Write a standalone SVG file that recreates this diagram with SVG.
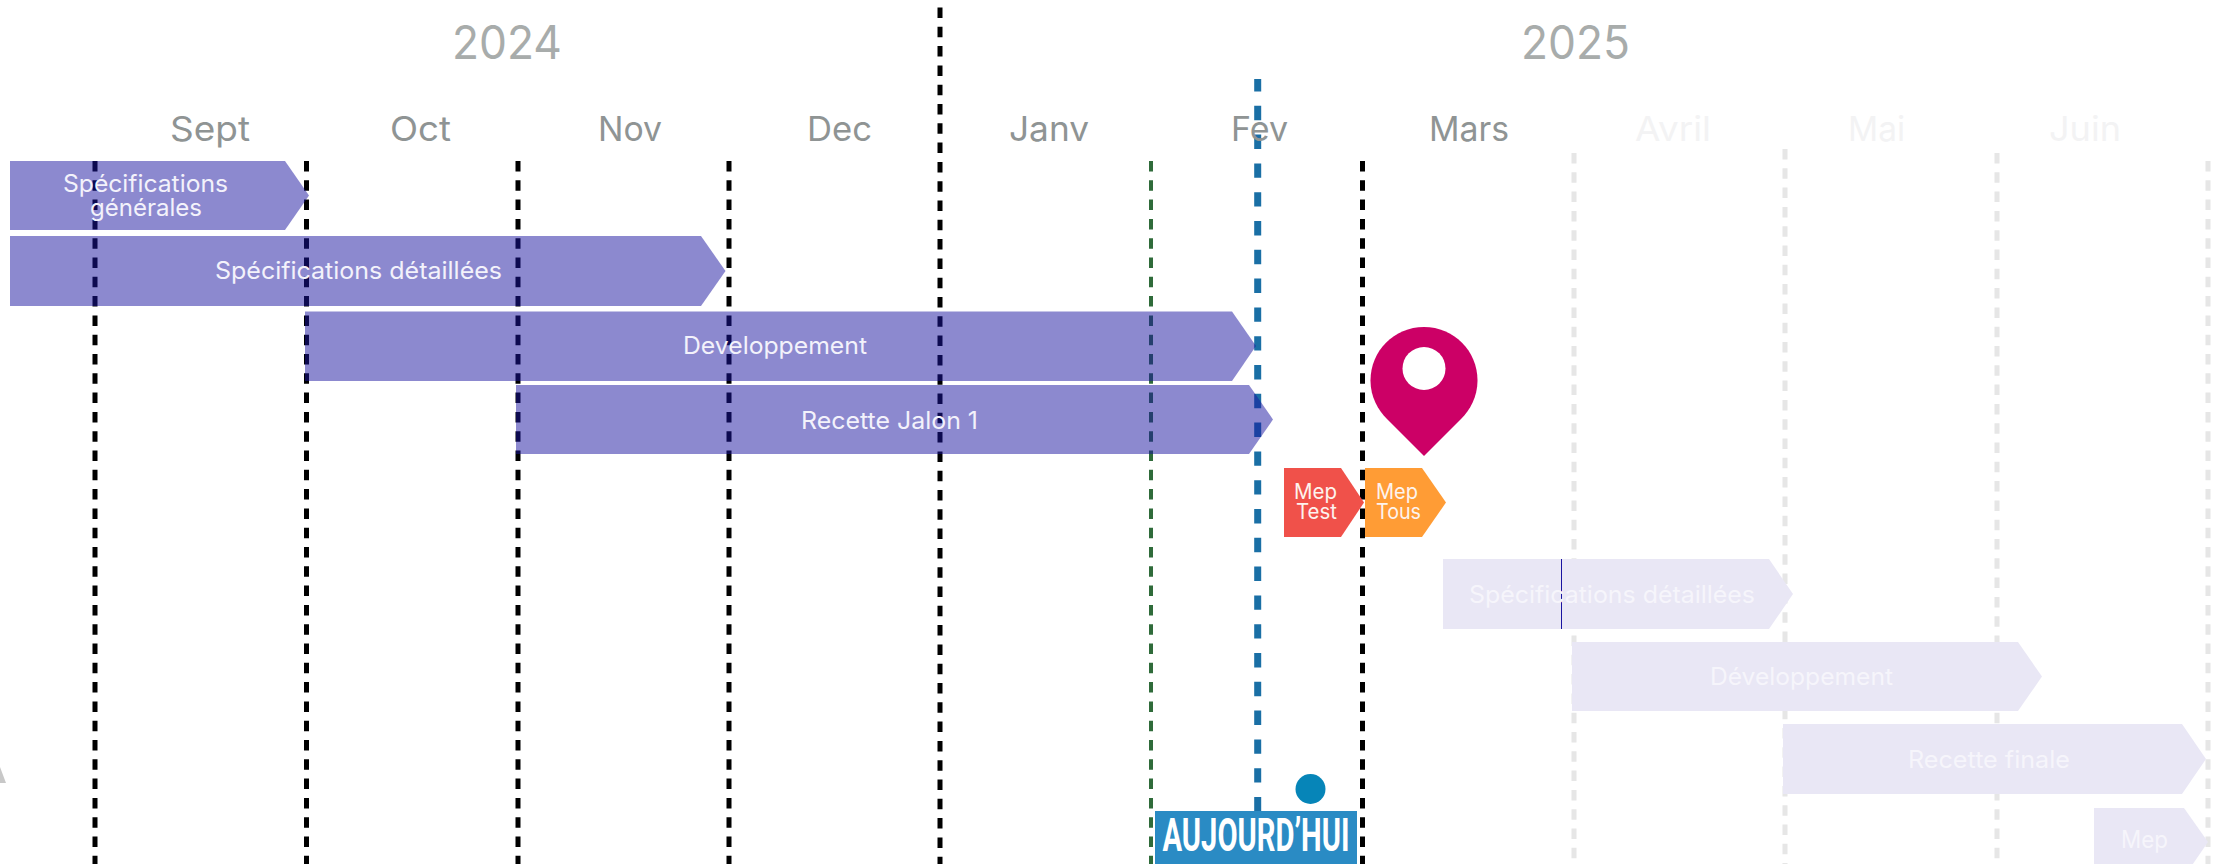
<svg xmlns="http://www.w3.org/2000/svg" width="2216" height="864" viewBox="0 0 2216 864">
<style>
text{font-family:"Inter","Liberation Sans",sans-serif;text-anchor:middle}
.yr{font-size:46px;fill:#a8acab}
.mo{font-size:34px;fill:#8f9494}
.mof{font-size:34px;fill:#f3f3f4}
.bk{stroke:#000;stroke-width:5;stroke-dasharray:10.500 8.800;fill:none}
.gy{stroke:#e6e6e6;stroke-width:5;stroke-dasharray:10.500 8.800;fill:none}
.gn{stroke:#2f6b3a;stroke-width:4;stroke-dasharray:10.500 8.800;fill:none}
.bl{stroke:#1a6fa5;stroke-width:7;stroke-dasharray:14.400 14.400;stroke-dashoffset:2;fill:none}
.b{fill:#1a14a0;fill-opacity:.5}
.l{fill:#e9e7f5}
.t{font-size:24px;fill:#f3f2fb}
.tl{font-size:24px;fill:#f6f5fb}
.s{font-size:21px;fill:#fdf3ee}
</style>
<g id="connectors">
<path class="bk" d="M95 161V864M306.500 161V864M518 161V864M729 161V864M1362.500 161V864"/>
<path class="bk" d="M940 7.500V864"/>
<path class="gy" d="M1574 153V864M1785 149V864M1997 153V864M2208 161V864"/>
<path class="gn" d="M1151 161V864"/>
<path class="bl" d="M1257.700 79V820"/>
</g>
<g id="years"><text class="yr" x="507" y="59" textLength="110" lengthAdjust="spacingAndGlyphs">2024</text><text class="yr" x="1575.500" y="59" textLength="109" lengthAdjust="spacingAndGlyphs">2025</text></g>
<g id="months">
<text class="mo" x="210" y="141" textLength="80" lengthAdjust="spacingAndGlyphs">Sept</text>
<text class="mo" x="420.500" y="141" textLength="61" lengthAdjust="spacingAndGlyphs">Oct</text>
<text class="mo" x="630" y="141" textLength="64" lengthAdjust="spacingAndGlyphs">Nov</text>
<text class="mo" x="839.500" y="141" textLength="65" lengthAdjust="spacingAndGlyphs">Dec</text>
<text class="mo" x="1049" y="141" textLength="80" lengthAdjust="spacingAndGlyphs">Janv</text>
<text class="mo" x="1259.500" y="141" textLength="57" lengthAdjust="spacingAndGlyphs">Fev</text>
<text class="mo" x="1469" y="141" textLength="80" lengthAdjust="spacingAndGlyphs">Mars</text>
<text class="mof" x="1673" y="141" textLength="76" lengthAdjust="spacingAndGlyphs">Avril</text>
<text class="mof" x="1876.500" y="141" textLength="57" lengthAdjust="spacingAndGlyphs">Mai</text>
<text class="mof" x="2085" y="141" textLength="72" lengthAdjust="spacingAndGlyphs">Juin</text>
</g>
<g id="bar1"><path class="b" d="M10 161H285L309 195.500L285 230H10Z"/><text class="t" x="145.500" y="192" textLength="165" lengthAdjust="spacingAndGlyphs">Spécifications</text><text class="t" x="146" y="216" textLength="112" lengthAdjust="spacingAndGlyphs">générales</text></g>
<g id="bar2"><path class="b" d="M10 236H701L725.500 271L701 306H10Z"/><text class="t" x="358.500" y="279" textLength="287" lengthAdjust="spacingAndGlyphs">Spécifications détaillées</text></g>
<g id="bar3"><path class="b" d="M305 311.500H1232L1256 346L1232 381H305Z"/><text class="t" x="775" y="354" textLength="184" lengthAdjust="spacingAndGlyphs">Developpement</text></g>
<g id="bar4"><path class="b" d="M516 385H1249L1273 419.500L1249 454H516Z"/><text class="t" x="889.500" y="429" textLength="177" lengthAdjust="spacingAndGlyphs">Recette Jalon 1</text></g>
<g id="mep-test"><path fill="#f0514a" d="M1284 468H1341L1364 502.500L1341 537H1284Z"/><text class="s" x="1315.500" y="499" textLength="43" lengthAdjust="spacingAndGlyphs">Mep</text><text class="s" x="1316.500" y="519" textLength="41" lengthAdjust="spacingAndGlyphs">Test</text></g>
<g id="mep-tous"><path fill="#ff9c35" d="M1365 468H1422L1446 502.500L1422 537H1365Z"/><text class="s" x="1397" y="499" textLength="42" lengthAdjust="spacingAndGlyphs">Mep</text><text class="s" x="1398.500" y="519" textLength="45" lengthAdjust="spacingAndGlyphs">Tous</text></g>
<g id="pin"><path fill="#cc0066" d="M1424 327C1394 327 1370.500 351 1370.500 380.500C1370.500 397 1378 410 1387 419L1424 456L1461 419C1470 410 1477.500 397 1477.500 380.500C1477.500 351 1454 327 1424 327Z"/><circle cx="1424" cy="368.500" r="21.500" fill="#fff"/></g>
<g id="bar5"><path class="l" d="M1443 559H1769L1793 594L1769 629H1443Z"/><path d="M1561.500 559V629" stroke="#1a14a0" stroke-width="1"/><text class="tl" x="1612" y="603" textLength="286" lengthAdjust="spacingAndGlyphs">Spécifications détaillées</text></g>
<g id="bar6"><path class="l" d="M1572 642H2018L2042 676.500L2018 711H1572Z"/><text class="tl" x="1801.500" y="685" textLength="183" lengthAdjust="spacingAndGlyphs">Développement</text></g>
<g id="bar7"><path class="l" d="M1783 724H2182L2206 759L2182 794H1783Z"/><text class="tl" x="1989" y="768" textLength="162" lengthAdjust="spacingAndGlyphs">Recette finale</text></g>
<g id="bar8"><path class="l" d="M2094 808H2184L2208 842L2184 877H2094Z"/><text class="tl" x="2144.500" y="848" textLength="47" lengthAdjust="spacingAndGlyphs">Mep</text></g>
<circle id="dot" cx="1310.500" cy="789" r="15" fill="#0685b8"/>
<g id="aujourdhui"><rect x="1155" y="811" width="202" height="53" fill="#2a8bc4"/><text x="1256" y="851" font-size="46" font-weight="700" fill="#fff" style="font-family:'Liberation Sans Narrow','Roboto',sans-serif" textLength="187" lengthAdjust="spacingAndGlyphs">AUJOURD’HUI</text></g>
<path id="mark" fill="#c8c8c8" d="M0 767L6 783H0Z"/>
</svg>
